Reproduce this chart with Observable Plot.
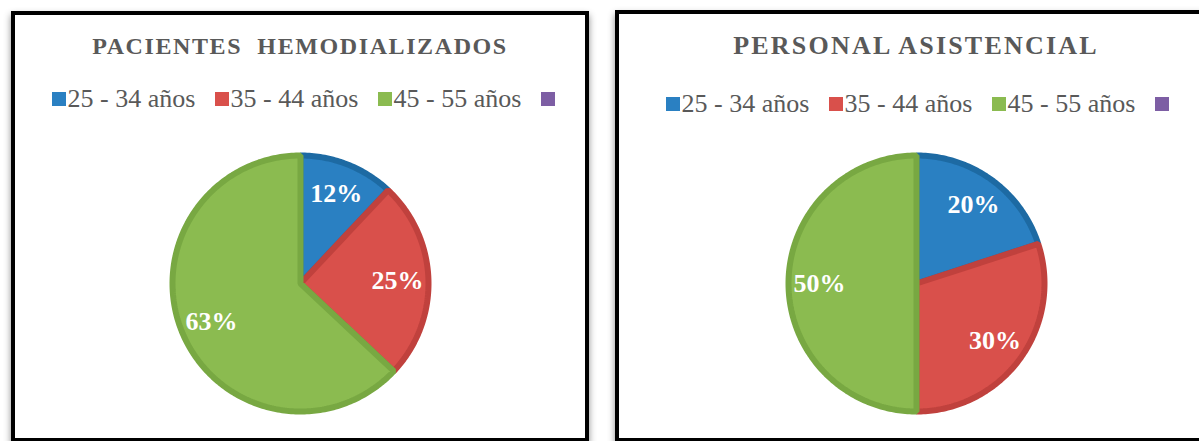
<!DOCTYPE html>
<html>
<head>
<meta charset="utf-8">
<script src="https://cdn.jsdelivr.net/npm/d3@7"></script>
<script src="https://cdn.jsdelivr.net/npm/@observablehq/plot@0.6"></script>
<style>
  html, body { margin: 0; padding: 0; background: #fff; }
  body { position: relative; width: 1199px; height: 441px; overflow: hidden; font-family: 'Liberation Serif', serif; }
  .panel { position: absolute; border: 4px solid #000; background: #fff; box-shadow: 0 4px 7px rgba(0,0,0,0.45); box-sizing: content-box; }
  .title { position: absolute; left: 0; right: 0; text-align: center; font-family: 'Liberation Serif', serif; font-weight: bold; color: #595959; white-space: pre; }
  .legend { position: absolute; left: 0; right: 0; display: flex; justify-content: center; font-family: 'Liberation Serif', serif; font-size: 26px; line-height: 26px; color: #595959; white-space: pre; }
  .item { display: flex; align-items: center; width: 163px; }
  .item.last { width: 14px; }
  .sw { width: 14px; height: 14px; margin-right: 2px; flex: none; }
  .chart { position: absolute; left: 0; }
</style>
</head>
<body>
<script>
// ---- data ----
const categories = ["25 - 34 años", "35 - 44 años", "45 - 55 años", ""];
const pacientesValues = [12, 25, 63, 0];
const personalValues = [20, 30, 50, 0];
const chartTitles = ["PACIENTES  HEMODIALIZADOS", "PERSONAL ASISTENCIAL"];
const fillColors = ["#2a80c2", "#d9504b", "#8bbb50", "#7d5ea4"];
const edgeColors = ["#1d6aa3", "#c0413d", "#78a842", "#6a4f8f"];

const panels = [
  {left: 11, top: 11, w: 570, h: 423, titleTop: 19, titleSize: 24, titleSpacing: 1.6, legendTop: 71, legendShift: 6, chartTop: 125, values: pacientesValues, title: chartTitles[0]},
  {left: 615, top: 10, w: 594, h: 424, titleTop: 19, titleSize: 26, titleSpacing: 2.2, legendTop: 77, legendShift: 2, chartTop: 126, values: personalValues, title: chartTitles[1]}
];

const R = 131;          // pixel radius
const chartH = 290;
const cyPix = 143;      // centre inside chart svg

panels.forEach(p => {
  const div = document.createElement("div");
  div.className = "panel";
  Object.assign(div.style, {left: p.left + "px", top: p.top + "px", width: p.w + "px", height: p.h + "px"});
  document.body.appendChild(div);

  const t = document.createElement("div");
  t.className = "title";
  Object.assign(t.style, {top: p.titleTop + "px", fontSize: p.titleSize + "px", lineHeight: p.titleSize + "px", letterSpacing: p.titleSpacing + "px"});
  t.textContent = p.title;
  div.appendChild(t);

  const lg = document.createElement("div");
  lg.className = "legend";
  lg.style.top = p.legendTop + "px";
  lg.style.paddingLeft = p.legendShift + "px";
  categories.forEach((c, i) => {
    const it = document.createElement("div");
    it.className = "item" + (i === categories.length - 1 ? " last" : "");
    const sw = document.createElement("span");
    sw.className = "sw";
    sw.style.background = fillColors[i];
    it.appendChild(sw);
    if (c) { const s = document.createElement("span"); s.textContent = c; it.appendChild(s); }
    lg.appendChild(it);
  });
  div.appendChild(lg);

  // pie geometry from data
  const total = d3.sum(p.values);
  const arcs = d3.pie().sort(null).value(d => d)(p.values);
  const inset = 1 - 3 / R;
  const marks = [];
  const labels = [];
  arcs.forEach((a, i) => {
    if (a.value <= 0) return;
    const pts = [];
    const cx0 = inset * Math.sin(a.startAngle), cy0 = inset * Math.cos(a.startAngle);
    pts.push({x: cx0 / 2, y: cy0 / 2});
    const n = Math.max(2, Math.ceil((a.endAngle - a.startAngle) / (Math.PI / 180)));
    for (let k = 0; k <= n; k++) {
      const ang = a.startAngle + (a.endAngle - a.startAngle) * k / n;
      pts.push({x: inset * Math.sin(ang), y: inset * Math.cos(ang)});
    }
    pts.push({x: 0, y: 0});
    pts.push({x: cx0 / 2, y: cy0 / 2});
    marks.push(Plot.line(pts, {x: "x", y: "y", fill: fillColors[i], stroke: edgeColors[i], strokeWidth: 6, strokeLinejoin: "miter", strokeLinecap: "square", curve: "linear"}));
    const mid = (a.startAngle + a.endAngle) / 2;
    const lr = 0.74;
    labels.push({x: lr * Math.sin(mid), y: lr * Math.cos(mid), text: Math.round(a.value / total * 100) + "%"});
  });
  marks.push(Plot.text(labels, {x: "x", y: "y", text: "text", fill: "#fff", fontSize: 26, fontWeight: "bold", fontFamily: "Liberation Serif, serif"}));

  const cxPix = p.w / 2;
  const chart = Plot.plot({
    width: p.w,
    height: chartH,
    margin: 0,
    style: {background: "transparent", overflow: "visible"},
    x: {domain: [-1, 1], range: [cxPix - R, cxPix + R], axis: null},
    y: {domain: [-1, 1], range: [cyPix + R, cyPix - R], axis: null},
    marks
  });
  chart.classList.add("chart");
  chart.style.top = p.chartTop + "px";
  div.appendChild(chart);
});
</script>
</body>
</html>
